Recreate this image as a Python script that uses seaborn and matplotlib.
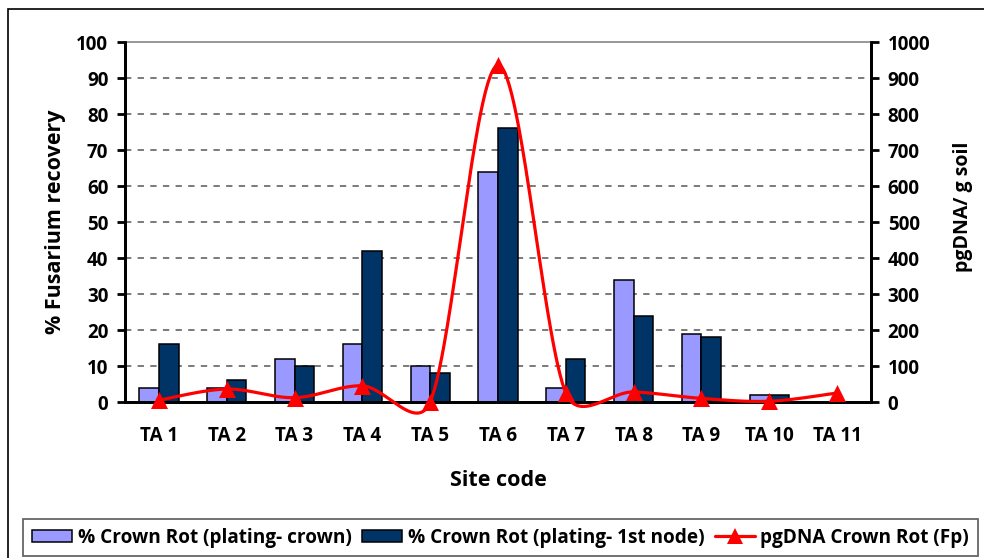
import numpy as np
import pandas as pd
import matplotlib
matplotlib.use("Agg")
import matplotlib.pyplot as plt
import seaborn as sns
from matplotlib.patches import Rectangle, Patch
from matplotlib.lines import Line2D

# Site data
sites = [f"TA {i}" for i in range(1, 12)]
crown_pct = [4, 4, 12, 16, 10, 64, 4, 34, 19, 2, 0]
node_pct = [16, 6, 10, 42, 8, 76, 12, 24, 18, 2, 0]
pgdna = [5, 36, 12, 45, 0, 935, 25, 28, 10, 2, 25]

series_names = ["% Crown Rot (plating- crown)", "% Crown Rot (plating- 1st node)"]
line_name = "pgDNA Crown Rot (Fp)"
bar_colors = ["#9999FF", "#003366"]
line_color = "#FF0000"

sns.set_theme(style="white")
plt.rcParams["font.family"] = ["Open Sans", "DejaVu Sans"]
plt.rcParams["font.weight"] = "bold"
plt.rcParams["text.color"] = "black"

W, H = 984, 558
AX_L, AX_R, AX_T, AX_B = 125, 871, 42, 402

df = pd.DataFrame({
    "site": sites * 2,
    "value": crown_pct + node_pct,
    "series": [series_names[0]] * len(sites) + [series_names[1]] * len(sites),
})

fig = plt.figure(figsize=(W / 100, H / 100), dpi=100)
ax = fig.add_axes([AX_L / W, 1 - AX_B / H, (AX_R - AX_L) / W, (AX_B - AX_T) / H])

sns.barplot(data=df, x="site", y="value", hue="series", palette=bar_colors,
            saturation=1, width=0.58, edgecolor="black", linewidth=1.1, ax=ax,
            legend=False, zorder=3)

tick_font = dict(fontsize=13.5, fontweight="bold", color="black")
label_font = dict(fontsize=15.5, fontweight="bold", color="black")

ax.set_ylim(0, 100)
ax.set_xlim(-0.5, len(sites) - 0.5)
ax.set_yticks(np.arange(0, 101, 10))
ax.set_yticklabels([str(v) for v in range(0, 101, 10)], **tick_font)
ax.set_xticks(range(len(sites)))
ax.set_xticklabels(sites, **tick_font)
ax.set_xticks(np.arange(-0.5, len(sites)), minor=True)
ax.tick_params(axis="x", which="major", length=0, pad=17)
ax.tick_params(axis="x", which="minor", length=6, width=2, direction="out", color="black")
ax.tick_params(axis="y", length=6, width=2, direction="out", color="black", pad=6)
ax.set_xlabel("Site code", **label_font)
ax.xaxis.set_label_coords(0.5, (AX_B - 481) / (AX_B - AX_T))
ax.xaxis.label.set_va("center")
ax.set_ylabel("% Fusarium recovery", **label_font)
ax.yaxis.set_label_coords((55 - AX_L) / (AX_R - AX_L), 0.5)
ax.yaxis.label.set_va("center")

# dashed horizontal gridlines
for v in range(10, 100, 10):
    ax.axhline(v, color="#707070", linewidth=1.3, linestyle=(0, (3.5, 3.5)), zorder=1)

for side in ("left", "bottom", "right"):
    ax.spines[side].set_color("black")
    ax.spines[side].set_linewidth(2)
ax.spines["top"].set_color("#909090")
ax.spines["top"].set_linewidth(1.3)

# secondary axis for DNA quantities
ax2 = ax.twinx()
ax2.set_ylim(0, 1000)
ax2.set_yticks(np.arange(0, 1001, 100))
ax2.set_yticklabels([str(v) for v in range(0, 1001, 100)], **tick_font)
ax2.tick_params(axis="y", length=6, width=2, direction="out", color="black", pad=6)
ax2.set_ylabel("pgDNA/ g soil", fontsize=14, fontweight="bold", color="black")
ax2.yaxis.set_label_coords((963 - AX_L) / (AX_R - AX_L), (AX_B - 207) / (AX_B - AX_T))
ax2.yaxis.label.set_va("center")
for side in ("left", "bottom", "right"):
    ax2.spines[side].set_color("black")
    ax2.spines[side].set_linewidth(2)
ax2.spines["top"].set_visible(False)

# smoothed curve: Bezier segments, control offsets limited to half the segment
# length (computed in display pixels so the shape follows the drawn aspect)
xs = np.arange(len(sites), dtype=float)
ys = np.array(pgdna, dtype=float)
sx = (AX_R - AX_L) / len(sites)
sy = (AX_B - AX_T) / 1000.0
pts = np.column_stack([xs * sx, ys * sy])
t = np.linspace(0, 1, 60)[:, None]
segments = []
for i in range(len(pts) - 1):
    p0 = pts[max(i - 1, 0)]
    p1 = pts[i]
    p2 = pts[i + 1]
    p3 = pts[min(i + 2, len(pts) - 1)]
    d12 = np.linalg.norm(p2 - p1)
    v1 = (p2 - p0) / 6
    v2 = (p3 - p1) / 6
    if np.linalg.norm(v1) > d12 / 2:
        v1 = v1 / np.linalg.norm(v1) * d12 / 2
    if np.linalg.norm(v2) > d12 / 2:
        v2 = v2 / np.linalg.norm(v2) * d12 / 2
    c1 = p1 + v1
    c2 = p2 - v2
    seg = (1 - t) ** 3 * p1 + 3 * (1 - t) ** 2 * t * c1 + 3 * (1 - t) * t ** 2 * c2 + t ** 3 * p2
    segments.append(seg if i == 0 else seg[1:])
curve = np.vstack(segments)
curve_df = pd.DataFrame({"x": curve[:, 0] / sx, "y": curve[:, 1] / sy})
sns.lineplot(data=curve_df, x="x", y="y", sort=False, estimator=None,
             color=line_color, linewidth=2.3, ax=ax2, zorder=4, clip_on=False)
pts_df = pd.DataFrame({"x": xs, "y": ys})
sns.scatterplot(data=pts_df, x="x", y="y", marker="^", s=150, color=line_color,
                edgecolor=line_color, linewidth=0, ax=ax2, zorder=5, clip_on=False)
ax2.set_xlabel("")
ax2.set_xlim(-0.5, len(sites) - 0.5)

# legend
handles = [
    Patch(facecolor=bar_colors[0], edgecolor="black", linewidth=1.1, label=series_names[0]),
    Patch(facecolor=bar_colors[1], edgecolor="black", linewidth=1.1, label=series_names[1]),
    Line2D([0], [0], color=line_color, linewidth=2.3, marker="^", markersize=12,
           markeredgewidth=0, label=line_name),
]
leg = fig.legend(handles=handles, loc="center", bbox_to_anchor=(500.5 / W, 1 - 537.5 / H),
                 ncol=3, frameon=True, fancybox=False, edgecolor="#404040",
                 handlelength=2.1, handleheight=0.55, handletextpad=0.3,
                 columnspacing=0.55, borderpad=0.45, borderaxespad=0,
                 prop={"weight": "bold", "size": 13.7})
leg.get_frame().set_linewidth(1.3)
for txt in leg.get_texts():
    txt.set_color("black")

# outer chart frame
fig.patches.append(Rectangle((8 / W, -0.05), 1.2, 1 - 9 / H + 0.05,
                             transform=fig.transFigure, fill=False,
                             edgecolor="black", linewidth=1.2))

fig.savefig("out.png", dpi=100)
